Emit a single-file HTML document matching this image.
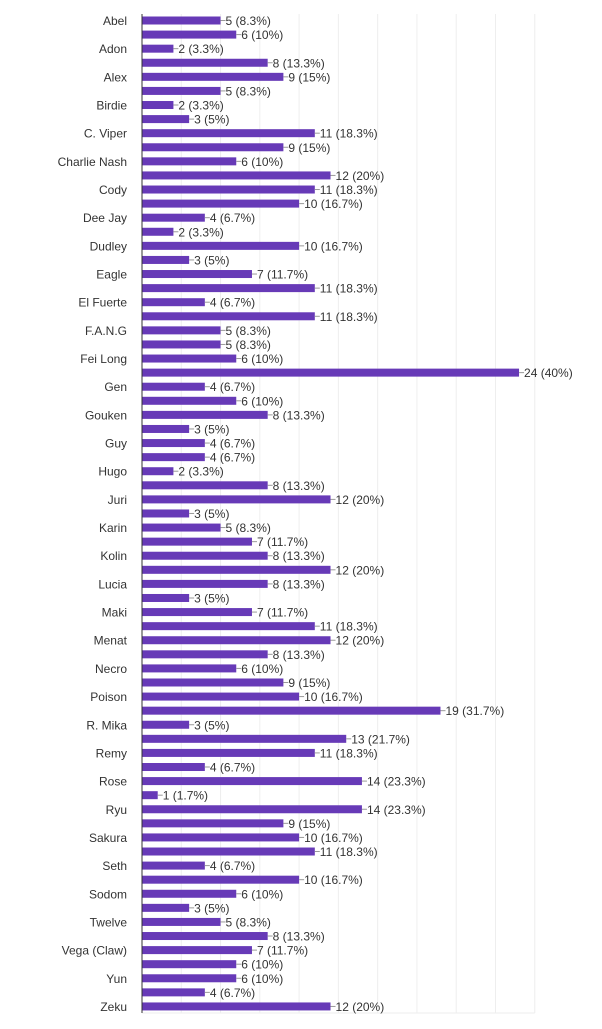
<!DOCTYPE html>
<html><head><meta charset="utf-8">
<style>
body{margin:0;background:#fff;font-family:"Liberation Sans",Arial,sans-serif;}
svg text{font-family:"Liberation Sans",Arial,sans-serif;font-size:12px;fill:#333;}
</style></head>
<body>
<svg id="chart" width="602" height="1024" xmlns="http://www.w3.org/2000/svg"></svg>
<script>
const categories=["Abel","Abigail","Adon","Akuma","Alex","Balrog","Birdie","Blanka","C. Viper","Cammy","Charlie Nash","Chun-Li","Cody","Dan","Dee Jay","Dhalsim","Dudley","E. Honda","Eagle","Ed","El Fuerte","Falke","F.A.N.G","Falcon","Fei Long","G","Gen","Gill","Gouken","Guile","Guy","Honda2","Hugo","Ibuki","Juri","Kage","Karin","Ken","Kolin","Laura","Lucia","Luke","Maki","Makoto","Menat","M. Bison","Necro","Oro","Poison","Q","R. Mika","Rashid","Remy","Rolento","Rose","Rufus","Ryu","Sagat","Sakura","Sean","Seth","Urien","Sodom","T. Hawk","Twelve","Vega","Vega (Claw)","Yang","Yun","Zangief","Zeku"];
const values=[5,6,2,8,9,5,2,3,11,9,6,12,11,10,4,2,10,3,7,11,4,11,5,5,6,24,4,6,8,3,4,4,2,8,12,3,5,7,8,12,8,3,7,11,12,8,6,9,10,19,3,13,11,4,14,1,14,9,10,11,4,10,6,3,5,8,7,6,6,4,12];
const percents=["8.3%","10%","3.3%","13.3%","15%","8.3%","3.3%","5%","18.3%","15%","10%","20%","18.3%","16.7%","6.7%","3.3%","16.7%","5%","11.7%","18.3%","6.7%","18.3%","8.3%","8.3%","10%","40%","6.7%","10%","13.3%","5%","6.7%","6.7%","3.3%","13.3%","20%","5%","8.3%","11.7%","13.3%","20%","13.3%","5%","11.7%","18.3%","20%","13.3%","10%","15%","16.7%","31.7%","5%","21.7%","18.3%","6.7%","23.3%","1.7%","23.3%","15%","16.7%","18.3%","6.7%","16.7%","10%","5%","8.3%","13.3%","11.7%","10%","10%","6.7%","20%"];
const gridTicks=[2.5,5,7.5,10,12.5,15,17.5,20,22.5,25];
const NS="http://www.w3.org/2000/svg";
const svg=document.getElementById('chart');
const x0=142,pxPer=15.71;
const xs=v=>x0+v*pxPer;
const yc=i=>20.5+i*14.085;
const yTop=14,yBottom=1013;
function mk(t,a){const e=document.createElementNS(NS,t);for(const k in a)e.setAttribute(k,a[k]);svg.appendChild(e);return e;}
gridTicks.forEach(t=>{const x=xs(t);
 const g=mk('line',{x1:x,x2:x,y1:yTop,y2:yBottom,stroke:'#eeeeee','stroke-width':1});
 
 });
const bl=mk('line',{x1:x0,x2:xs(25),y1:yBottom,y2:yBottom,stroke:'#eeeeee','stroke-width':1});


values.forEach((v,i)=>{
 const y=yc(i);
 const r=mk('rect',{x:x0,y:y-4,width:xs(v)-x0,height:8,fill:'#673ab7'});
 
 
 const l=mk('line',{x1:xs(v),x2:xs(v)+5,y1:y,y2:y,stroke:'#999','stroke-width':1});
 
 
 const t=mk('text',{x:xs(v)+5,y:y+4.5});
 t.textContent=v+' ('+percents[i]+')';
 
 
 if(i%2===0){
  const c=mk('text',{x:127,y:y+4.5,'text-anchor':'end'});
  c.textContent=categories[i];
  
  
 }
});
const ax=mk('line',{x1:x0,x2:x0,y1:yTop,y2:yBottom,stroke:'#333','stroke-width':1});


</script>
</body></html>
